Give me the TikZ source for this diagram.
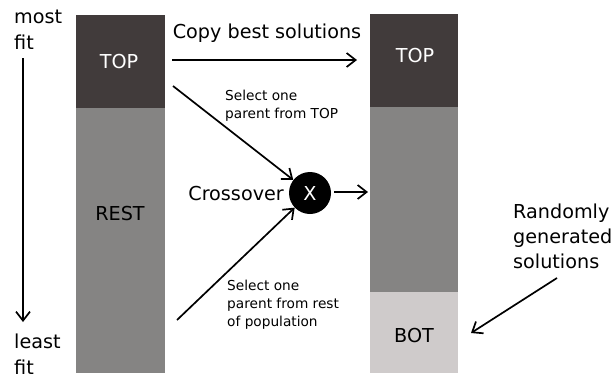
\documentclass[tikz,border=0pt]{standalone}
\usepackage{fontspec}
\setmainfont{DejaVu Sans}
\usetikzlibrary{arrows.meta}
\definecolor{darkblk}{HTML}{413B3B}
\definecolor{midgray}{HTML}{858483}
\definecolor{lightgray}{HTML}{CFCBCB}
\begin{document}
\begin{tikzpicture}[x=1pt,y=-1pt,
  bigtxt/.style={font=\fontsize{19.2}{26}\selectfont, inner sep=0pt},
  smalltxt/.style={font=\fontsize{13.7}{18}\selectfont, inner sep=0pt, align=left, anchor=west},
  block/.style={inner sep=0pt, outer sep=0pt, draw=none},
  conn/.style={line width=1.7pt, -{Straight Barb[length=9pt,width=14pt,line width=1.7pt]}}
]
\useasboundingbox (0,0) rectangle (611,378);
% left column
\fill[midgray] (76,108) rectangle (165,373);
\fill[darkblk] (76,15) rectangle (165,108);
\node[bigtxt, text=white] (ltoplbl) at (119,62) {TOP};
\node[bigtxt] (lrestlbl) at (120,214) {REST};
% right column
\fill[midgray] (370,107) rectangle (458,292);
\fill[darkblk] (370,14) rectangle (458,107);
\fill[lightgray] (370,292) rectangle (458,373);
\node[bigtxt, text=white] (rtoplbl) at (415,56) {TOP};
\node[bigtxt] (rbotlbl) at (414,336) {BOT};
% labels
\node[bigtxt, align=left, anchor=west] (mostfit) at (14,30) {most\\fit};
\node[bigtxt, align=left, anchor=west] (leastfit) at (14,354) {least\\fit};
\node[bigtxt] (copylbl) at (267,33) {Copy best solutions};
\node[bigtxt, anchor=east] (crosslbl) at (284,194) {Crossover};
\node[font=\fontsize{19.2}{25}\selectfont, inner sep=0pt, align=left, anchor=west] (randlbl) at (513,236) {Randomly\\generated\\solutions};
\node[smalltxt] (sel1) at (225,106) {Select one\\parent from TOP};
\node[smalltxt] (sel2) at (227,305) {Select one\\parent from rest\\of population};
% crossover circle
\node[circle, fill=black, minimum size=42pt, inner sep=0pt, text=white, font=\fontsize{19.2}{22}\selectfont] (cx) at (310,193) {X};
% connector end points
\coordinate (vtop) at (23,58);
\coordinate (vbot) at (23,322);
\coordinate (copys) at (172,60);
\coordinate (copye) at (357,60);
\coordinate (s1) at (173,86);
\coordinate (s2) at (177,320);
\coordinate (cxe) at (368,192);
\coordinate (rs) at (557,278);
\coordinate (re) at (471,333);
% connectors
\draw[conn] (vtop) -- (vbot);
\draw[conn] (copys) -- (copye);
\draw[conn] (s1) -- (cx);
\draw[conn] (s2) -- (cx);
\draw[conn, shorten <=3pt] (cx.east |- cxe) -- (cxe);
\draw[conn] (rs) -- (re);
\end{tikzpicture}
\end{document}
